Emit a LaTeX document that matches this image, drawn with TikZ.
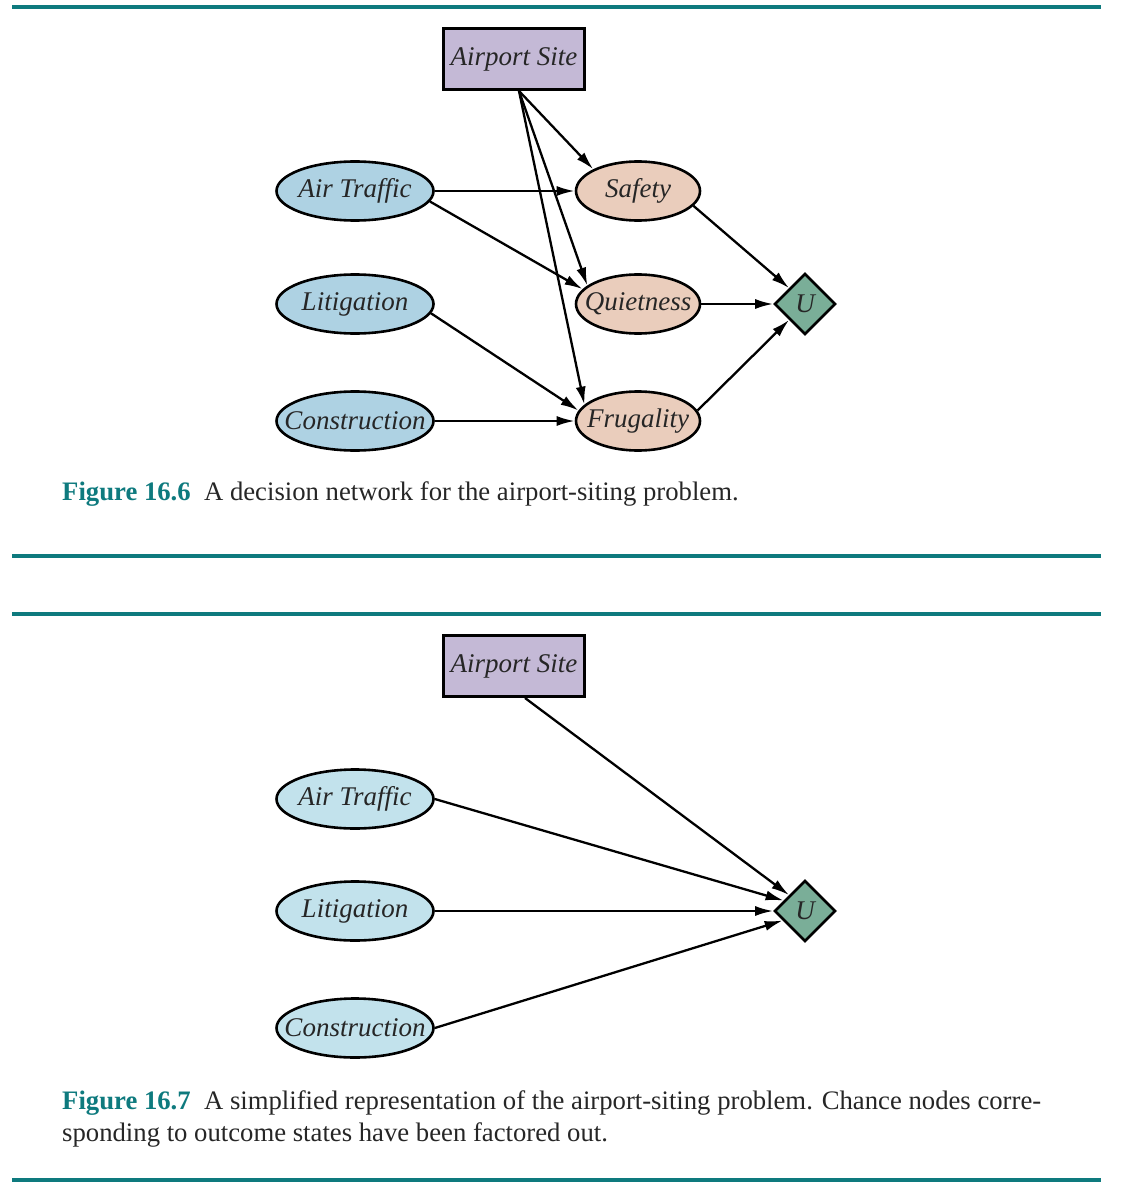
\documentclass[tikz,border=0pt]{standalone}
\usepackage{fontspec}
\setmainfont{Liberation Serif}
\usetikzlibrary{shapes.geometric,arrows.meta}
\definecolor{teal1}{HTML}{0E7A7E}
\definecolor{chanceA}{HTML}{AED2E3}
\definecolor{chanceB}{HTML}{C2E2EC}
\definecolor{outc}{HTML}{EACDBC}
\definecolor{decis}{HTML}{C4B9D6}
\definecolor{util}{HTML}{7AAE98}
\definecolor{txt}{HTML}{262626}
\newcommand{\nt}[1]{\makebox[0pt]{#1}}
\tikzset{
  base/.style={draw=black, line width=2.6pt, font=\fontsize{27}{30}\selectfont\itshape, text=txt, inner sep=0pt},
  chance/.style={base, ellipse, minimum width=157pt, minimum height=59pt},
  chanceone/.style={chance, fill=chanceA},
  chancetwo/.style={chance, fill=chanceB},
  outcome/.style={base, ellipse, fill=outc, minimum width=124pt, minimum height=59pt},
  decision/.style={base, rectangle, fill=decis, minimum width=141pt, minimum height=61pt},
  utility/.style={base, diamond, fill=util, minimum width=61pt, minimum height=61pt},
  arr/.style={line width=2.3pt, -{Latex[length=18pt,width=10pt]}},
  rulebar/.style={line width=4.5pt, teal1},
  captext/.style={anchor=base west, inner sep=0pt, font=\fontsize{26.7}{32}\selectfont, text=txt},
}
\begin{document}
\begin{tikzpicture}[x=1pt,y=-1pt]
\useasboundingbox (0,0) rectangle (1140,1198);
% rules
\draw[rulebar] (12,7) -- (1101,7);
\draw[rulebar] (12,556) -- (1101,556);
\draw[rulebar] (12,614) -- (1101,614);
\draw[rulebar] (12,1180) -- (1101,1180);

% Figure 16.6
\node[decision] (as1) at (514,59) {\nt{Airport Site}};
\node[chanceone] (at1) at (355,191) {\nt{Air Traffic}};
\node[chanceone] (li1) at (355,304) {\nt{Litigation}};
\node[chanceone] (co1) at (355,421) {\nt{Construction}};
\node[outcome] (sa1) at (638,191) {\nt{Safety}};
\node[outcome] (qu1) at (638,304) {\nt{Quietness}};
\node[outcome] (fr1) at (638,421) {\nt{Frugality}};
\node[utility] (u1) at (805,304) {\nt{U}};
\coordinate (asb1) at (519,91);

\draw[arr] (asb1) -- (sa1.north west);
\draw[arr] (asb1) -- (qu1.160);
\draw[arr] (asb1) -- (fr1.163);
\draw[arr] (at1) -- (sa1);
\draw[arr] (at1.-8) -- (qu1.165);
\draw[arr] (li1.-7) -- (fr1.170);
\draw[arr] (co1) -- (fr1);
\draw[arr] (sa1.-15) -- (u1.north west);
\draw[arr] (qu1) -- (u1);
\draw[arr] (fr1.10) -- (u1.south west);

\node[captext] (c1) at (62,500) {\textcolor{teal1}{\bfseries Figure 16.6}\hspace{0.5em}A decision network for the airport-siting problem.};

% Figure 16.7
\node[decision] (as2) at (514,666) {\nt{Airport Site}};
\node[chancetwo] (at2) at (355,799) {\nt{Air Traffic}};
\node[chancetwo] (li2) at (355,911) {\nt{Litigation}};
\node[chancetwo] (co2) at (355,1028) {\nt{Construction}};
\node[utility] (u2) at (805,911) {\nt{U}};
\coordinate (asb2) at (525,698);

\draw[arr] (asb2) -- (u2.north west);
\draw[arr] (at2.east) -- (u2.154);
\draw[arr] (li2) -- (u2);
\draw[arr] (co2.east) -- (u2.-157);

\node[captext] (c2a) at (62,1109) {\textcolor{teal1}{\bfseries Figure 16.7}\hspace{0.5em}A simplified representation of the airport-siting problem. Chance nodes corre-};
\node[captext] (c2b) at (62,1141) {sponding to outcome states have been factored out.};
\end{tikzpicture}
\end{document}
